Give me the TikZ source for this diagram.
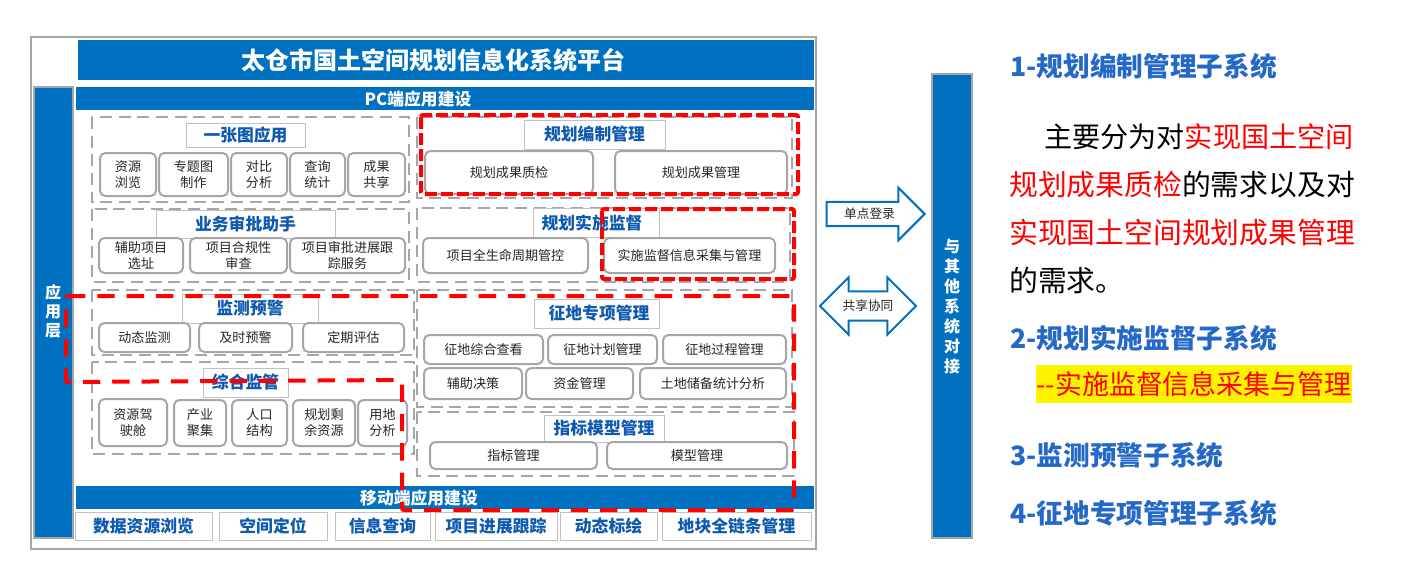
\documentclass[tikz,border=0pt]{standalone}
\usepackage{fontspec}
\setmainfont{Noto Sans CJK SC}
\usetikzlibrary{shapes.arrows}

\definecolor{barblue}{HTML}{0070C0}
\definecolor{titleblue}{HTML}{0F5AAE}
\definecolor{linegray}{HTML}{A6A6A6}
\definecolor{headblue}{HTML}{2468C8}

\tikzset{
    groupbox/.style={draw=linegray, line width=1.3pt, dash pattern=on 9pt off 5pt},
    titlebox/.style={draw=linegray!70, line width=0.7pt, fill=white, inner sep=0pt, text=titleblue,
        font=\fontsize{12.6}{15}\selectfont\bfseries},
    itembox/.style={draw=linegray, line width=1.5pt, rounded corners=4pt, fill=white, inner sep=0pt,
        align=center, text=black!85, font=\fontsize{9.8}{12}\selectfont},
    bluebar/.style={fill=barblue, inner sep=0pt},
    sidebar/.style={fill=barblue, draw=linegray, line width=1.5pt, inner sep=0pt},
    sidetext/.style={text=white, inner sep=0pt, font=\fontsize{12}{14}\selectfont\bfseries},
    redbox/.style={draw=red, line width=3pt, rounded corners=1.5pt},
    flowarrow/.style={draw=barblue, line width=1.5pt, fill=white, inner xsep=0pt, text=black!85,
        font=\fontsize{9.5}{11}\selectfont},
    headline/.style={anchor=west, inner sep=0pt, text=headblue, font=\fontsize{20}{24}\selectfont\bfseries},
    bodyline/.style={anchor=west, inner sep=0pt, font=\fontsize{21.6}{25}\selectfont},
}

\begin{document}
\begin{tikzpicture}[x=0.75pt,y=-0.75pt]
    \useasboundingbox (0,0) rectangle (1409,585);

    % frame and header
    \draw[draw=linegray, line width=2.2pt] (31,37) rectangle (816,549);
    \node[bluebar, minimum width=736*0.75pt, minimum height=40*0.75pt] (platform) at (446,60) {};
    \node[sidetext, font=\fontsize{18}{22}\selectfont\bfseries] (platformlabel) at (433,60) {太仓市国土空间规划信息化系统平台};
    \node[sidebar, minimum width=39*0.75pt, minimum height=451*0.75pt] (appbar) at (53.5,312.5) {};
    \foreach \y/\txt [count=\i] in {292/应,311.5/用,331/层}
        \node[sidetext] (applayer\i) at (53,\y) {\txt};
    \node[bluebar, minimum width=738*0.75pt, minimum height=23*0.75pt] (pcbar) at (445,98.5) {};
    \node[sidetext, font=\fontsize{12.6}{15}\selectfont\bfseries] (pclabel) at (418,99) {PC端应用建设};
    \node[bluebar, minimum width=738*0.75pt, minimum height=23*0.75pt] (mobilebar) at (445,497.5) {};
    \node[sidetext, font=\fontsize{12.6}{15}\selectfont\bfseries] (mobilelabel) at (419,498) {移动端应用建设};

    % dashed groups
    \foreach \xa/\ya/\xb/\yb in {92/117/409/202, 92/209/409/282, 92/290/414/355, 92/362/414/454,
        417/117/792/198, 417/208/790/282, 417/290/792/407, 417/412/794/476}
        \draw[groupbox] (\xa,\ya) rectangle (\xb,\yb);

    % group titles
    \foreach \xa/\ya/\xb/\yb/\txt [count=\i] in {186/123/305/147/一张图应用, 156/210/335/238/业务审批助手,
        182/294/318/323/监测预警, 203/368/288/397/综合监管, 524/120/665/149/规划编制管理,
        533/208/659/237/{\hspace*{-6pt}规划实施监督}, 534/299/659/328/{\hspace*{3.75pt}征地专项管理}, 544/415/664/442/指标模型管理,
        75/512/212/540/数据资源浏览, 219/512/327/540/空间定位, 335/512/430/540/信息查询,
        435/512/557/540/项目进展跟踪, 560/512/657/540/动态标绘, 662/512/811/540/地块全链条管理}
        \node[titlebox, minimum width=(\xb-\xa)*0.75pt, minimum height=(\yb-\ya)*0.75pt]
            (title\i) at ({(\xa+\xb)/2},{(\ya+\yb)/2}) {\txt};

    % items, one row per loop line
    \foreach \xa/\ya/\xb/\yb/\txt [count=\i] in {
        100/153/156/196/{资源\\浏览}, 159/153/228/196/{专题图\\制作}, 231/153/287/196/{对比\\分析},
        290/153/345/196/{查询\\统计}, 348/153/405/196/{成果\\共享},
        99/238/183/273/{辅助项目\\选址}, 190/238/287/273/{项目合规性\\审查}, 290/238/405/273/{项目审批进展跟\\踪服务},
        99/323/190/352/动态监测, 199/323/292/352/及时预警, 303/323/404/352/定期评估,
        99/399/167/446/{资源驾\\驶舱}, 174/400/226/446/{产业\\聚集}, 232/400/287/446/{人口\\结构},
        293/400/355/446/{规划剩\\余资源}, 358/400/407/446/{用地\\分析},
        425/151/593/194/规划成果质检, 615/151/787/194/规划成果管理,
        423/238/588/273/项目全生命周期管控, 604/238/775/273/实施监督信息采集与管理,
        424/335/543/364/征地综合查看, 548/335/657/364/征地计划管理, 663/335/786/364/征地过程管理,
        424/368/522/399/辅助决策, 526/368/633/399/资金管理, 640/368/786/399/土地储备统计分析,
        430/442/597/469/指标管理, 607/442/787/469/模型管理}
        \node[itembox, minimum width=(\xb-\xa)*0.75pt, minimum height=(\yb-\ya)*0.75pt]
            (item\i) at ({(\xa+\xb)/2},{(\ya+\yb)/2}) {\txt};

    % red highlights
    \draw[redbox, dash pattern=on 9pt off 3pt] (421,115) rectangle (798,194);
    \draw[redbox, dash pattern=on 9pt off 3pt] (602,209) rectangle (794,279);
    \draw[redbox, dash pattern=on 13pt off 9pt]
        (66,296) -- (794,296) -- (794,510) -- (402,510) -- (402,380) -- (66,382) -- cycle;

    % right column
    \node[sidebar, minimum width=40*0.75pt, minimum height=464*0.75pt] (dockbar) at (952,306) {};
    \foreach \y/\txt [count=\i] in {246/与,266/其,286/他,306/系,326/统,346/对,366/接}
        \node[sidetext] (dock\i) at (952,\y) {\txt};

    \node[flowarrow, single arrow, single arrow head extend=14*0.75pt, inner ysep=4pt,
        minimum height=98*0.75pt] (login) at (869.5,214) {单点登录};
    \node[flowarrow, double arrow, double arrow head extend=14*0.75pt, inner ysep=5.8pt,
        minimum height=96*0.75pt] (share) at (868,306) {共享协同};

    \node[headline] (head1) at (1010,66) {1-规划编制管理子系统};
    \node[bodyline, font=\fontsize{21.1}{25}\selectfont] (body1) at (1044,137) {主要分为对\textcolor{red}{实现国土空间}};
    \node[bodyline] (body2) at (1009,185) {\textcolor{red}{规划成果质检}的需求以及对};
    \node[bodyline] (body3) at (1009,233) {\textcolor{red}{实现国土空间规划成果管理}};
    \node[bodyline] (body4) at (1009,281) {的需求。};
    \node[headline] (head2) at (1010,338) {2-规划实施监督子系统};
    \node[fill=yellow, inner sep=0pt, minimum width=316*0.75pt, minimum height=38*0.75pt,
        text=red, font=\fontsize{20.2}{24}\selectfont] (head2sub) at (1194,384) {-{}-实施监督信息采集与管理};
    \node[headline] (head3) at (1010,455) {3-监测预警子系统};
    \node[headline] (head4) at (1010,513) {4-征地专项管理子系统};
\end{tikzpicture}
\end{document}
